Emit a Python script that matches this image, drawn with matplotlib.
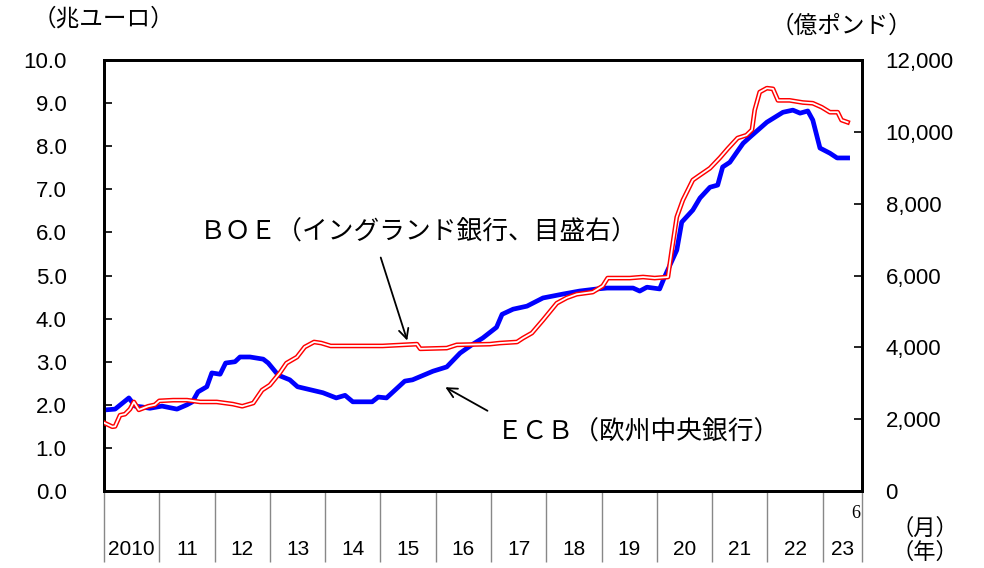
import numpy as np
import matplotlib
matplotlib.use("Agg")
import matplotlib.pyplot as plt
from matplotlib.ticker import FuncFormatter

plt.rcParams['font.family'] = ['Liberation Sans', 'Noto Sans CJK JP', 'DejaVu Sans']
JP = ['Noto Sans CJK JP', 'DejaVu Sans']

# ECB total assets (trillion euro), time as fractional year
ecb_t = [2010.0, 2010.2, 2010.45, 2010.56, 2010.69, 2010.83, 2011.05, 2011.32, 2011.5, 2011.6,
         2011.7, 2011.86, 2011.95, 2012.1, 2012.2, 2012.37, 2012.46, 2012.64, 2012.88, 2012.97,
         2013.15, 2013.36, 2013.5, 2013.96, 2014.2, 2014.36, 2014.5, 2014.85, 2014.96, 2015.11,
         2015.44, 2015.58, 2015.95, 2016.2, 2016.44, 2016.65, 2016.85, 2017.1, 2017.2, 2017.4,
         2017.65, 2017.94, 2018.3, 2018.6, 2018.92, 2019.1, 2019.57, 2019.69, 2019.82, 2020.05,
         2020.14, 2020.36, 2020.45, 2020.65, 2020.78, 2020.96, 2021.1, 2021.19, 2021.32, 2021.45,
         2021.56, 2021.68, 2021.99, 2022.28, 2022.46, 2022.59, 2022.73, 2022.82, 2022.95, 2023.13,
         2023.26, 2023.45]
ecb_v = [1.88, 1.90, 2.16, 1.97, 1.95, 1.92, 1.97, 1.90, 2.00, 2.07,
         2.30, 2.42, 2.74, 2.71, 2.97, 3.00, 3.11, 3.11, 3.06, 2.97,
         2.69, 2.58, 2.42, 2.28, 2.16, 2.22, 2.07, 2.07, 2.18, 2.16,
         2.55, 2.58, 2.78, 2.88, 3.20, 3.39, 3.55, 3.80, 4.10, 4.22,
         4.29, 4.48, 4.57, 4.64, 4.69, 4.71, 4.71, 4.64, 4.73, 4.69,
         4.97, 5.59, 6.24, 6.52, 6.80, 7.05, 7.10, 7.52, 7.63, 7.87,
         8.07, 8.21, 8.56, 8.79, 8.84, 8.77, 8.82, 8.61, 7.96, 7.84,
         7.73, 7.73]

# BOE total assets (100 million pounds)
boe_t = [2010.0, 2010.15, 2010.2, 2010.29, 2010.38, 2010.47, 2010.54, 2010.63, 2010.8, 2010.92,
         2011.0, 2011.25, 2011.5, 2011.74, 2012.04, 2012.33, 2012.5, 2012.7, 2012.86, 2013.0,
         2013.18, 2013.3, 2013.49, 2013.63, 2013.8, 2013.93, 2014.1, 2014.57, 2015.04, 2015.66,
         2015.72, 2016.2, 2016.38, 2016.98, 2017.16, 2017.47, 2017.58, 2017.74, 2017.94, 2018.19,
         2018.37, 2018.55, 2018.84, 2019.02, 2019.11, 2019.51, 2019.75, 2019.96, 2020.2, 2020.27,
         2020.36, 2020.47, 2020.65, 2020.78, 2020.96, 2021.14, 2021.28, 2021.46, 2021.62, 2021.72,
         2021.77, 2021.86, 2021.99, 2022.1, 2022.19, 2022.4, 2022.64, 2022.82, 2022.98, 2023.13,
         2023.27, 2023.34, 2023.45]
boe_v = [1900, 1790, 1800, 2110, 2140, 2280, 2480, 2260, 2360, 2400,
         2510, 2530, 2530, 2480, 2480, 2420, 2360, 2450, 2810, 2950,
         3290, 3560, 3730, 4010, 4150, 4120, 4040, 4040, 4040, 4090,
         3960, 3980, 4070, 4090, 4120, 4150, 4260, 4400, 4760, 5230,
         5380, 5480, 5540, 5710, 5930, 5930, 5960, 5930, 5960, 6710,
         7630, 8100, 8660, 8800, 8990, 9280, 9530, 9830, 9910, 10060,
         10610, 11110, 11220, 11200, 10880, 10880, 10820, 10800, 10690, 10550,
         10550, 10330, 10270]

years = list(range(2010, 2024))
year_labels = ['2010'] + [str(y % 100) for y in years[1:]]
x_end = 2023.71

fig = plt.figure(figsize=(9.84, 5.68), dpi=100)
ax = fig.add_axes([0.1057, 0.1356, 0.7703, 0.7585])
ax2 = ax.twinx()

ax.plot(ecb_t, ecb_v, color='#0000ff', lw=3.4, solid_joinstyle='round', zorder=3)
ax2.plot(boe_t, boe_v, color='#ff0000', lw=3.4, zorder=3)
ax2.plot(boe_t, boe_v, color='white', lw=1.3, zorder=4)

ax.set_xlim(2010, x_end)
ax.set_ylim(0, 10)
ax2.set_ylim(0, 12000)
ax.set_yticks(np.arange(0, 11, 1))
ax.yaxis.set_major_formatter(FuncFormatter(lambda v, p: f'{v:.1f}'))
ax2.set_yticks(np.arange(0, 12001, 2000))
ax2.yaxis.set_major_formatter(FuncFormatter(lambda v, p: f'{int(v):,}'))
ax.tick_params(axis='y', direction='in', length=6, width=1.2, labelsize=16, pad=27)
ax2.tick_params(axis='y', direction='in', length=6, width=1.2, labelsize=16, pad=17)
ax.set_xticks([])
for a in (ax, ax2):
    for s in a.spines.values():
        s.set_linewidth(2)

# year separators below the axis
sep = years + [x_end]
ax.vlines(sep, -0.165, 0, transform=ax.get_xaxis_transform(), color='#888888',
          lw=1, clip_on=False)
for y, lab in zip(years, year_labels):
    mid = (y + min(y + 1, x_end)) / 2
    ax.text(mid, -0.135, lab, transform=ax.get_xaxis_transform(), ha='center',
            va='center', fontsize=15)
ax.text(2023.68, -0.053, '6', transform=ax.get_xaxis_transform(), ha='right',
        va='center', fontsize=13, family='Liberation Serif')

fig.text(0.94, 0.07, '（月）', fontsize=16, family=JP, ha='center', va='center')
fig.text(0.94, 0.028, '（年）', fontsize=16, family=JP, ha='center', va='center')
fig.text(0.105, 0.966, '（兆ユーロ）', fontsize=17, family=JP, ha='center', va='center')
fig.text(0.855, 0.954, '（億ポンド）', fontsize=17, family=JP, ha='center', va='center')

# annotations
ax.text(2011.74, 6.01, 'ＢＯＥ（イングランド銀行、目盛右）', fontsize=18.5, family=JP,
        ha='left', va='center')
ax.annotate('', xy=(2015.5, 3.43), xytext=(2014.99, 5.48),
            arrowprops=dict(arrowstyle='->, head_length=0.7, head_width=0.35', lw=1.3,
                            color='black'))
ax.text(2017.1, 1.35, 'ＥＣＢ（欧州中央銀行）', fontsize=18.5, family=JP,
        ha='left', va='center')
ax.annotate('', xy=(2016.13, 2.44), xytext=(2016.98, 1.83),
            arrowprops=dict(arrowstyle='->, head_length=0.7, head_width=0.35', lw=1.3,
                            color='black'))

fig.savefig('out.png', dpi=100)
